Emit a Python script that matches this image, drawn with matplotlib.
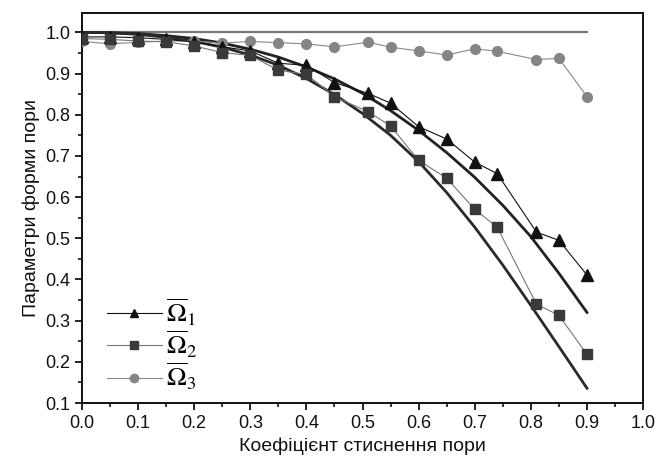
import matplotlib
matplotlib.use("Agg")
import matplotlib.pyplot as plt
from matplotlib.ticker import MultipleLocator

plt.rcParams['font.family'] = ['Liberation Sans', 'DejaVu Sans']
plt.rcParams['mathtext.fontset'] = 'stix'

# measured series (marker positions)
x_pts = [0.0, 0.05, 0.1, 0.15, 0.2, 0.25, 0.3, 0.35, 0.4, 0.45, 0.51, 0.55, 0.6, 0.65, 0.7, 0.74, 0.81, 0.85, 0.9]
omega1 = [0.989, 0.989, 0.987, 0.983, 0.977, 0.965, 0.955, 0.925, 0.920, 0.878, 0.852, 0.828, 0.771, 0.741, 0.685, 0.657, 0.515, 0.495, 0.411]
omega2 = [0.985, 0.983, 0.979, 0.977, 0.967, 0.951, 0.944, 0.908, 0.898, 0.844, 0.807, 0.773, 0.689, 0.646, 0.570, 0.527, 0.340, 0.313, 0.218]
omega3 = [0.978, 0.972, 0.976, 0.979, 0.979, 0.974, 0.978, 0.975, 0.972, 0.965, 0.976, 0.964, 0.955, 0.945, 0.960, 0.954, 0.934, 0.937, 0.844]

# theoretical curves
x_curve = [0.0, 0.05, 0.1, 0.15, 0.2, 0.25, 0.3, 0.35, 0.4, 0.45, 0.5, 0.55, 0.6, 0.65, 0.7, 0.75, 0.8, 0.85, 0.9]
curve_upper = [1.0, 0.999, 0.997, 0.992, 0.985, 0.974, 0.959, 0.940, 0.916, 0.887, 0.852, 0.810, 0.762, 0.708, 0.648, 0.580, 0.504, 0.415, 0.320]
curve_lower = [1.0, 0.999, 0.995, 0.988, 0.978, 0.964, 0.945, 0.920, 0.888, 0.849, 0.803, 0.750, 0.686, 0.611, 0.527, 0.435, 0.337, 0.237, 0.136]
x_flat = [0.0, 0.9]
flat = [1.0, 1.0]

labels = [r'$\overline{\Omega}_1$', r'$\overline{\Omega}_2$', r'$\overline{\Omega}_3$']

fig = plt.figure(figsize=(6.57, 4.58), dpi=100)
ax = fig.add_axes([0.1248, 0.12, 0.854, 0.8516])

ax.plot(x_flat, flat, color='#777777', lw=1.6, zorder=2)
ax.plot(x_curve, curve_upper, color='#222222', lw=2.0, zorder=2)
ax.plot(x_curve, curve_lower, color='#2a2a2a', lw=2.0, zorder=2)

l1, = ax.plot(x_pts, omega1, color='#111111', lw=0.8, marker='^', ms=8, mfc='#111111', mec='#111111', zorder=4, label=labels[0])
l2, = ax.plot(x_pts, omega2, color='#777777', lw=0.8, marker='s', ms=7, mfc='#3a3a3a', mec='#3a3a3a', zorder=4, label=labels[1])
l3, = ax.plot(x_pts, omega3, color='#888888', lw=0.8, marker='o', ms=7, mfc='#858585', mec='#858585', zorder=3, label=labels[2])

ax.set_xlim(0.0, 1.0)
ax.set_ylim(0.1, 1.047)
ax.xaxis.set_major_locator(MultipleLocator(0.1))
ax.xaxis.set_minor_locator(MultipleLocator(0.05))
ax.yaxis.set_major_locator(MultipleLocator(0.1))
ax.yaxis.set_minor_locator(MultipleLocator(0.05))
ax.set_xticklabels([f'{v:.1f}' for v in ax.get_xticks()])
ax.tick_params(which='major', direction='out', length=5, width=1.3, labelsize=13, colors='#111111')
ax.tick_params(which='minor', direction='out', length=3, width=1.1)
ax.tick_params(top=False, right=False, which='both')
for s in ax.spines.values():
    s.set_linewidth(1.4)
    s.set_color('#111111')

ax.set_xlabel('Коефіцієнт стиснення пори', fontsize=14, labelpad=4, color='#111111')
ax.set_ylabel('Параметри форми пори', fontsize=14, labelpad=4, color='#111111')

leg = ax.legend(handles=[l1, l2, l3], loc='lower left', bbox_to_anchor=(0.025, 0.0),
                frameon=False, fontsize=19, handlelength=2.1, handletextpad=0.15,
                labelspacing=0.05, borderaxespad=0.0)
for h in leg.legend_handles:
    h.set_markersize(6)

fig.savefig('out.png', dpi=100)
